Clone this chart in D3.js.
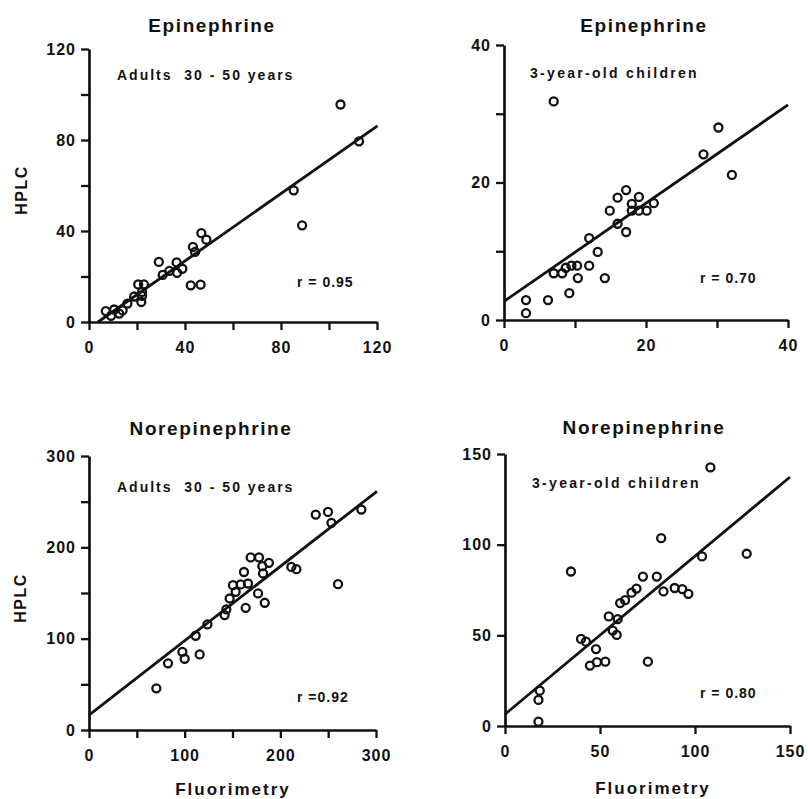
<!DOCTYPE html>
<html>
<head>
<meta charset="utf-8">
<script src="https://cdn.jsdelivr.net/npm/d3@7/dist/d3.min.js"></script>
<style>
  html, body { margin: 0; padding: 0; background: #fff; }
  svg { display: block; }
  text { font-family: "Liberation Sans", Arial, sans-serif; font-weight: bold; fill: #111; white-space: pre; }
</style>
</head>
<body>
<svg id="chart" width="808" height="799"></svg>
<script>
// ---------- data ----------
const panelTitles = ["Epinephrine", "Epinephrine", "Norepinephrine", "Norepinephrine"];
const groupLabels = ["Adults  30 - 50 years", "3-year-old children", "Adults  30 - 50 years", "3-year-old children"];
const rLabels = ["r = 0.95", "r = 0.70", "r =0.92", "r = 0.80"];
const axisMax = [120, 40, 300, 150];
const tickSteps = [20, 10, 50, 50];
const labelSteps = [40, 20, 100, 50];
const xTitle = "Fluorimetry";
const yTitle = "HPLC";

// [fluorimetry, HPLC]
const epiAdults = [
  [7.0,4.8],[10.5,5.5],[9.2,2.7],[12.6,3.7],[14.0,5.1],[16.0,8.1],[18.8,11.2],
  [20.5,16.5],[22.9,16.5],[22.1,13.2],[22.1,11.5],[21.8,8.8],
  [29.1,26.4],[30.7,20.7],[33.5,22.5],[36.5,26.2],[36.7,21.6],[38.9,23.4],
  [42.4,16.1],[46.5,16.4],[43.3,33.0],[44.2,30.8],[46.8,39.1],[48.9,36.2],
  [85.3,57.9],[88.8,42.5],[104.8,95.6],[112.5,79.4]
];
const epiChildren = [
  [3.1,2.9],[3.1,1.0],[6.2,2.9],[9.2,3.9],[7.0,6.8],[8.2,6.8],[8.7,7.6],[9.5,7.9],
  [10.3,7.9],[10.4,6.1],[12.0,7.9],[13.2,9.9],[14.2,6.1],[12.0,11.9],[14.9,15.9],
  [16.0,14.0],[16.0,17.8],[17.2,18.9],[17.2,12.8],[18.0,16.9],[18.0,15.9],[19.0,17.9],
  [19.0,15.9],[20.1,15.9],[21.1,17.0],[7.0,31.8],[28.1,24.1],[30.2,28.0],[32.1,21.1]
];
const norAdults = [
  [70.4,45.6],[82.6,73.0],[97.6,85.6],[100,78.0],[115.7,82.8],[111.5,103.2],[123.8,115.6],
  [141.8,125.8],[143.6,132.0],[147,144],[150.5,158.6],[153.3,151.3],[158.6,159.4],[162,173],
  [163.8,133.8],[166.2,160.4],[169,188.9],[176.7,149.5],[177.7,188.9],[181.2,179.4],
  [181.9,171.4],[183.7,139.3],[188.1,183],[211.5,178.6],[216.8,176.1],[237,235.9],
  [249.8,238.8],[253.4,226.8],[260.3,159.7],[284.7,241.4]
];
const norChildren = [
  [17.6,2.4],[17.6,14.4],[18.3,19.5],[34.7,85.2],[40,48],[42.6,46.5],[47.9,42.4],
  [44.7,33.3],[48.4,35.2],[52.8,35.5],[54.6,60.4],[56.7,52.6],[58.8,50.2],[59.3,58.9],
  [60.6,67.8],[63.2,69.4],[66.6,73.5],[69.2,75.8],[72.6,82.4],[75.2,35.5],[79.9,82.4],
  [82.2,103.6],[83.4,74.2],[89.3,76.1],[93.3,75.5],[96.5,72.9],[103.7,93.5],
  [108.1,142.6],[127.2,95.0]
];
// regression lines: [x0, y0, x1, y1]
const epiAdultsFit = [3.75, 0, 120.2, 86.2];
const epiChildrenFit = [0, 2.7, 40, 31.3];
const norAdultsFit = [0, 16.4, 301, 261.3];
const norChildrenFit = [0, 6.5, 150, 137.3];

const panelData = [epiAdults, epiChildren, norAdults, norChildren];
const panelFits = [epiAdultsFit, epiChildrenFit, norAdultsFit, norChildrenFit];

// ---------- layout ----------
const frames = [
  {x0: 89, x1: 377, y0: 322, y1: 49},
  {x0: 504, x1: 788, y0: 320, y1: 45},
  {x0: 89, x1: 376, y0: 730, y1: 456},
  {x0: 505, x1: 790, y0: 726, y1: 454}
];
const titlePos = [[212, 32], [644, 32], [211, 435], [644, 434]];
const groupPos = [[117, 80], [530, 78], [117, 492], [532, 488]];
const rPos = [[297, 287], [700, 283], [297, 702], [700, 698]];
const hplcPos = [[21, 190], [20, 598]];
const fluorPos = [[233, 795], [653, 794]];

const svg = d3.select("#chart");

frames.forEach((f, i) => {
  const max = axisMax[i];
  const x = d3.scaleLinear().domain([0, max]).range([f.x0, f.x1]);
  const y = d3.scaleLinear().domain([0, max]).range([f.y0, f.y1]);
  const ticks = d3.range(0, max + 0.001, tickSteps[i]);
  const fmt = d => (Math.abs(d % labelSteps[i]) < 1e-9 ? String(d) : "");

  const g = svg.append("g");

  const xAxis = d3.axisBottom(x).tickValues(ticks).tickFormat(fmt)
    .tickSize(8).tickSizeOuter(0).tickPadding(12);
  const yAxis = d3.axisLeft(y).tickValues(ticks).tickFormat(fmt)
    .tickSize(8).tickSizeOuter(0).tickPadding(5);

  const gx = g.append("g").attr("transform", `translate(0,${f.y0})`).call(xAxis);
  const gy = g.append("g").attr("transform", `translate(${f.x0},0)`).call(yAxis);
  [gx, gy].forEach(a => {
    a.selectAll("path.domain").attr("stroke", "#111").attr("stroke-width", 2.7);
    a.selectAll(".tick line").attr("stroke", "#111").attr("stroke-width", 2.3);
    a.selectAll(".tick text")
      .style("font-family", '"Liberation Sans", Arial, sans-serif')
      .style("font-weight", "bold").style("font-size", "16px")
      .style("letter-spacing", "1px").attr("fill", "#111");
  });

  // regression line
  const fit = panelFits[i];
  g.append("line")
    .attr("x1", x(fit[0])).attr("y1", y(fit[1]))
    .attr("x2", x(fit[2])).attr("y2", y(fit[3]))
    .attr("stroke", "#111").attr("stroke-width", 2.8);

  // points
  g.selectAll("circle").data(panelData[i]).enter().append("circle")
    .attr("cx", d => x(d[0])).attr("cy", d => y(d[1]))
    .attr("r", 4).attr("fill", "none").attr("stroke", "#111").attr("stroke-width", 2.3);

  // titles
  g.append("text").attr("x", titlePos[i][0]).attr("y", titlePos[i][1])
    .attr("text-anchor", "middle").style("font-size", "19px").style("letter-spacing", "1.6px")
    .text(panelTitles[i]);
  g.append("text").attr("x", groupPos[i][0]).attr("y", groupPos[i][1])
    .style("font-size", "14px").style("letter-spacing", i % 2 ? "2.3px" : "2px")
    .text(groupLabels[i]);
  g.append("text").attr("x", rPos[i][0]).attr("y", rPos[i][1])
    .style("font-size", "14px").style("letter-spacing", "1px")
    .text(rLabels[i]);
});

hplcPos.forEach(p => {
  svg.append("text").attr("transform", `translate(${p[0]},${p[1]}) rotate(-90)`)
    .attr("text-anchor", "middle").attr("dy", "0.35em")
    .style("font-size", "16px").style("letter-spacing", "1.5px").text(yTitle);
});
fluorPos.forEach(p => {
  svg.append("text").attr("x", p[0]).attr("y", p[1]).attr("text-anchor", "middle")
    .style("font-size", "17px").style("letter-spacing", "2px").text(xTitle);
});
</script>
</body>
</html>
